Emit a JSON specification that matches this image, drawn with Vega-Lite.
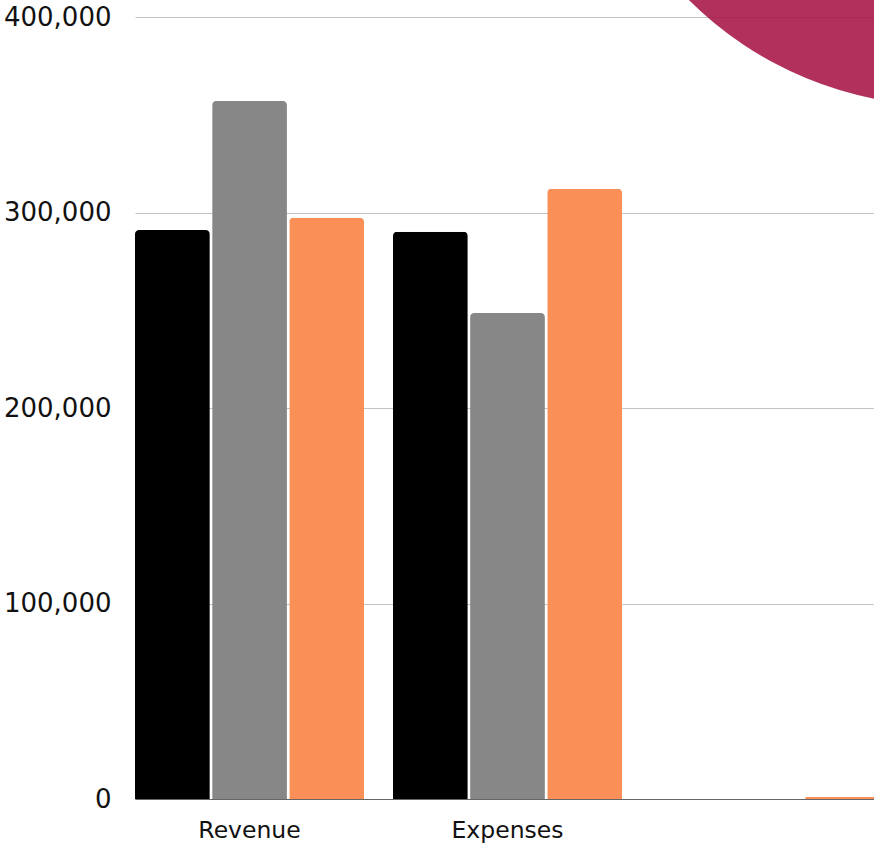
{
  "$schema": "https://vega.github.io/schema/vega-lite/v6.json",
  "autosize": {"type": "none"},
  "padding": {"left": 135, "top": 17, "right": 0, "bottom": 47},
  "width": 745,
  "height": 782,
  "background": "white",
  "config": {"view": {"stroke": null}},
  "encoding": {
    "y": {
      "field": "value",
      "type": "quantitative",
      "scale": {"domain": [0, 400000], "nice": false, "zero": true},
      "axis": {
        "title": null,
        "values": [0, 100000, 200000, 300000, 400000],
        "format": ",.0f",
        "domain": false,
        "ticks": false,
        "grid": true,
        "gridColor": "#c4c4c4",
        "gridWidth": 1,
        "labelFont": "DejaVu Sans",
        "labelFontSize": 26,
        "labelColor": "#111111",
        "labelPadding": 24
      }
    }
  },
  "layer": [
    {
      "data": {
        "values": [
          {"category": "Revenue", "series": "Series 1", "value": 291000},
          {"category": "Revenue", "series": "Series 2", "value": 357000},
          {"category": "Revenue", "series": "Series 3", "value": 297300},
          {"category": "Expenses", "series": "Series 1", "value": 290200},
          {"category": "Expenses", "series": "Series 2", "value": 248600},
          {"category": "Expenses", "series": "Series 3", "value": 312200},
          {"category": " ", "series": "Series 1", "value": 0},
          {"category": " ", "series": "Series 2", "value": 0},
          {"category": " ", "series": "Series 3", "value": 1000}
        ]
      },
      "mark": {"type": "bar", "cornerRadiusTopLeft": 4, "cornerRadiusTopRight": 4},
      "encoding": {
        "x": {
          "field": "category",
          "type": "nominal",
          "sort": null,
          "scale": {"paddingInner": 0.112, "paddingOuter": 0},
          "axis": {
            "title": null,
            "labelAngle": 0,
            "ticks": false,
            "domain": true,
            "domainColor": "#666666",
            "domainWidth": 1,
            "labelFont": "DejaVu Sans",
            "labelFontSize": 23.5,
            "labelColor": "#111111",
            "labelPadding": 19
          }
        },
        "xOffset": {"field": "series", "type": "nominal", "scale": {"paddingInner": 0.03}},
        "color": {
          "field": "series",
          "type": "nominal",
          "scale": {"domain": ["Series 1", "Series 2", "Series 3"], "range": ["#000000", "#878787", "#FA8F57"]},
          "legend": null
        }
      }
    },
    {
      "data": {"values": [{"cx": 1.087, "value": 540400}]},
      "mark": {"type": "point", "shape": "circle", "filled": true, "size": 527000, "color": "#A61446", "opacity": 0.88},
      "encoding": {
        "x": {
          "field": "cx",
          "type": "quantitative",
          "scale": {"domain": [0, 1], "nice": false, "zero": false},
          "axis": null
        }
      }
    }
  ],
  "resolve": {"scale": {"x": "independent"}, "axis": {"x": "independent"}}
}
